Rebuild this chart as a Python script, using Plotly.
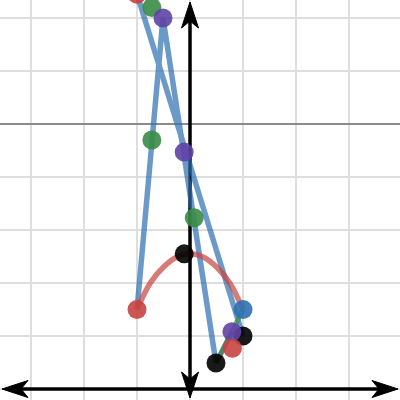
import plotly.graph_objects as go

# ---- data ----
red_x = [-1.0, -1.0, 0.8]
red_y = [7.45, 1.5, 0.77]
blue_x = [1.0]
blue_y = [1.5]
green_x = [-0.72, -0.72, 0.08]
green_y = [7.2, 4.7, 3.23]
purple_x = [-0.51, -0.11, 0.79]
purple_y = [7.0, 4.47, 1.08]
black_x = [-0.11, 0.49, 1.0]
black_y = [2.55, 0.49, 1.0]

path_x = [-1.0, -0.51, 0.49, None, -1.0, 1.0]
path_y = [1.5, 7.0, 0.49, None, 7.45, 1.0]

curve_x = [-1.0, -0.75, -0.5, -0.25, 0.0, 0.25, 0.5, 0.75, 1.0]
curve_y = [1.5, 2.0, 2.3, 2.49, 2.55, 2.49, 2.3, 2.0, 1.5]

green_seg_x = [0.49, 1.0]
green_seg_y = [0.49, 1.5]
purple_seg_x = [0.49, 0.79]
purple_seg_y = [0.49, 1.08]

ref_line_y = 5

RED = "#c74440"
BLUE = "#2d70b3"
GREEN = "#388c46"
PURPLE = "#6042a6"
BLACK = "#000000"

XR = [-3.585, 3.962]
YR = [-0.2075, 7.34]
U = 1 / 53.0  # data units per pixel

fig = go.Figure()

fig.add_trace(go.Scatter(x=path_x, y=path_y, mode="lines",
                         line=dict(color=BLUE, width=5.5), opacity=0.7,
                         connectgaps=False, hoverinfo="skip"))
fig.add_trace(go.Scatter(x=curve_x, y=curve_y, mode="lines",
                         line=dict(color=RED, width=5.5, shape="spline"),
                         opacity=0.7, hoverinfo="skip"))
fig.add_trace(go.Scatter(x=purple_seg_x, y=purple_seg_y, mode="lines",
                         line=dict(color=PURPLE, width=5), opacity=0.7))
fig.add_trace(go.Scatter(x=green_seg_x, y=green_seg_y, mode="lines",
                         line=dict(color=GREEN, width=5), opacity=0.7))

for xs, ys, c in [(green_x, green_y, GREEN), (black_x, black_y, BLACK),
                  (blue_x, blue_y, BLUE), (purple_x, purple_y, PURPLE),
                  (red_x, red_y, RED)]:
    fig.add_trace(go.Scatter(x=xs, y=ys, mode="markers",
                             marker=dict(color=c, size=19, opacity=0.9,
                                         line=dict(width=0))))

shapes = []
shapes.append(dict(type="line", xref="x", yref="y", x0=XR[0], x1=XR[1],
                   y0=ref_line_y, y1=ref_line_y,
                   line=dict(color="#8c8c8c", width=2), layer="between"))

tipT = YR[1] - 2 * U
tipB = YR[0] + 2 * U
tipL = XR[0] + 2 * U
tipR = XR[1] - 2 * U
L = 26 * U
N = 19 * U
H = 8.5 * U
shapes.append(dict(type="line", xref="x", yref="y", x0=0, x1=0,
                   y0=tipB + N, y1=tipT - N,
                   line=dict(color=BLACK, width=3.5), layer="between"))
shapes.append(dict(type="line", xref="x", yref="y", x0=tipL + N, x1=tipR - N,
                   y0=0, y1=0,
                   line=dict(color=BLACK, width=3.5), layer="between"))


def arrow(tx, ty, dx, dy):
    px, py = -dy, dx
    bx, by = tx - dx * L, ty - dy * L
    nx, ny = tx - dx * N, ty - dy * N
    pts = [(tx, ty), (bx + px * H, by + py * H), (nx, ny), (bx - px * H, by - py * H)]
    return "M " + " L ".join(f"{a:.4f},{b:.4f}" for a, b in pts) + " Z"


for tx, ty, dx, dy in [(0, tipT, 0, 1), (0, tipB, 0, -1),
                       (tipL, 0, -1, 0), (tipR, 0, 1, 0)]:
    shapes.append(dict(type="path", xref="x", yref="y", path=arrow(tx, ty, dx, dy),
                       fillcolor=BLACK, line=dict(color=BLACK, width=1),
                       layer="between"))

fig.update_layout(
    width=400, height=400, margin=dict(l=0, r=0, t=0, b=0),
    paper_bgcolor="white", plot_bgcolor="white", showlegend=False,
    shapes=shapes,
    xaxis=dict(range=XR, tick0=0, dtick=1, showgrid=True, gridcolor="#dedede",
               gridwidth=2, zeroline=False, showticklabels=False, ticks="",
               fixedrange=True),
    yaxis=dict(range=YR, tick0=0, dtick=1, showgrid=True, gridcolor="#dedede",
               gridwidth=2, zeroline=False, showticklabels=False, ticks="",
               fixedrange=True),
)

fig.write_html("out.html", config={"displayModeBar": False},
               post_script="document.body.style.margin='0';document.body.style.overflow='hidden';")
